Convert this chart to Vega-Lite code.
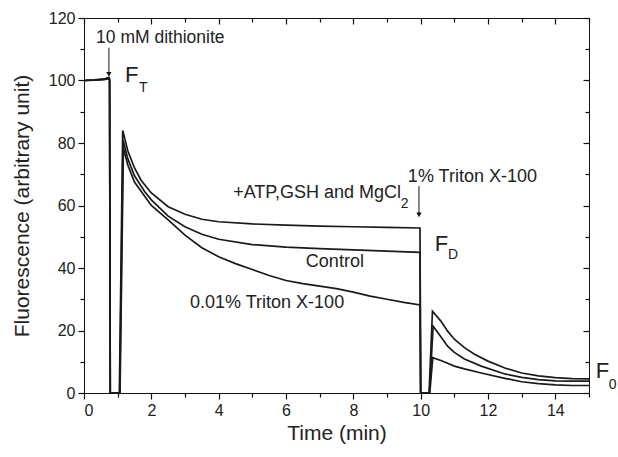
{
  "$schema": "https://vega.github.io/schema/vega-lite/v6.json",
  "width": 505,
  "height": 375,
  "autosize": {"type": "none"},
  "padding": {"left": 84, "top": 18, "right": 29, "bottom": 64},
  "config": {
    "view": {"stroke": "#111", "strokeWidth": 1},
    "font": "Liberation Sans",
    "axis": {"grid": false, "domainColor": "#111", "tickColor": "#111", "labelColor": "#222", "titleColor": "#222", "labelFont": "Liberation Sans", "titleFont": "Liberation Sans", "labelFontSize": 16, "titleFontSize": 21, "titleFontWeight": "normal", "domainWidth": 1, "tickWidth": 1.2, "ticks": true}
  },
  "datasets": {
    "curves": [
      {"series": "ATP", "t": 0, "f": 100}, {"series": "ATP", "t": 0.3, "f": 100.2}, {"series": "ATP", "t": 0.6, "f": 100.5}, {"series": "ATP", "t": 0.74, "f": 101}, {"series": "ATP", "t": 0.76, "f": 100.5}, {"series": "ATP", "t": 0.78, "f": 0}, {"series": "ATP", "t": 1.05, "f": 0}, {"series": "ATP", "t": 1.15, "f": 84}, {"series": "ATP", "t": 1.3, "f": 77.5}, {"series": "ATP", "t": 1.5, "f": 72}, {"series": "ATP", "t": 1.7, "f": 68}, {"series": "ATP", "t": 2, "f": 64}, {"series": "ATP", "t": 2.5, "f": 59.6}, {"series": "ATP", "t": 3, "f": 57.2}, {"series": "ATP", "t": 3.5, "f": 55.6}, {"series": "ATP", "t": 4, "f": 54.8}, {"series": "ATP", "t": 5, "f": 54.1}, {"series": "ATP", "t": 6, "f": 53.7}, {"series": "ATP", "t": 7, "f": 53.4}, {"series": "ATP", "t": 8, "f": 53.2}, {"series": "ATP", "t": 9, "f": 53}, {"series": "ATP", "t": 9.98, "f": 52.8}, {"series": "ATP", "t": 10.0, "f": 0}, {"series": "ATP", "t": 10.25, "f": 0}, {"series": "ATP", "t": 10.35, "f": 26.2}, {"series": "ATP", "t": 10.6, "f": 23}, {"series": "ATP", "t": 10.8, "f": 19.8}, {"series": "ATP", "t": 11, "f": 17.2}, {"series": "ATP", "t": 11.3, "f": 14.5}, {"series": "ATP", "t": 11.6, "f": 12.4}, {"series": "ATP", "t": 12, "f": 10.2}, {"series": "ATP", "t": 12.5, "f": 8}, {"series": "ATP", "t": 13, "f": 6.4}, {"series": "ATP", "t": 13.5, "f": 5.5}, {"series": "ATP", "t": 14, "f": 4.9}, {"series": "ATP", "t": 14.5, "f": 4.6}, {"series": "ATP", "t": 15, "f": 4.5},
      {"series": "Control", "t": 0, "f": 100}, {"series": "Control", "t": 0.3, "f": 100.1}, {"series": "Control", "t": 0.6, "f": 100.4}, {"series": "Control", "t": 0.74, "f": 100.8}, {"series": "Control", "t": 0.76, "f": 100.3}, {"series": "Control", "t": 0.78, "f": 0}, {"series": "Control", "t": 1.06, "f": 0}, {"series": "Control", "t": 1.16, "f": 81}, {"series": "Control", "t": 1.3, "f": 75}, {"series": "Control", "t": 1.5, "f": 69.5}, {"series": "Control", "t": 1.8, "f": 64.5}, {"series": "Control", "t": 2, "f": 61.8}, {"series": "Control", "t": 2.5, "f": 56.6}, {"series": "Control", "t": 3, "f": 53.2}, {"series": "Control", "t": 3.5, "f": 50.8}, {"series": "Control", "t": 4, "f": 49.2}, {"series": "Control", "t": 5, "f": 47.5}, {"series": "Control", "t": 6, "f": 46.7}, {"series": "Control", "t": 7, "f": 46.2}, {"series": "Control", "t": 8, "f": 45.8}, {"series": "Control", "t": 9, "f": 45.4}, {"series": "Control", "t": 9.98, "f": 45}, {"series": "Control", "t": 10.0, "f": 0}, {"series": "Control", "t": 10.26, "f": 0}, {"series": "Control", "t": 10.37, "f": 21.4}, {"series": "Control", "t": 10.6, "f": 18}, {"series": "Control", "t": 10.8, "f": 15}, {"series": "Control", "t": 11, "f": 13}, {"series": "Control", "t": 11.3, "f": 10.9}, {"series": "Control", "t": 11.8, "f": 8.6}, {"series": "Control", "t": 12.5, "f": 6.1}, {"series": "Control", "t": 13, "f": 5}, {"series": "Control", "t": 13.5, "f": 4.3}, {"series": "Control", "t": 14, "f": 3.9}, {"series": "Control", "t": 14.5, "f": 3.8}, {"series": "Control", "t": 15, "f": 3.8},
      {"series": "Triton", "t": 0, "f": 100}, {"series": "Triton", "t": 0.3, "f": 100.1}, {"series": "Triton", "t": 0.6, "f": 100.3}, {"series": "Triton", "t": 0.74, "f": 100.6}, {"series": "Triton", "t": 0.76, "f": 100.2}, {"series": "Triton", "t": 0.78, "f": 0}, {"series": "Triton", "t": 1.07, "f": 0}, {"series": "Triton", "t": 1.17, "f": 78.5}, {"series": "Triton", "t": 1.3, "f": 73}, {"series": "Triton", "t": 1.5, "f": 67.5}, {"series": "Triton", "t": 2, "f": 60}, {"series": "Triton", "t": 2.5, "f": 55.4}, {"series": "Triton", "t": 3, "f": 50.5}, {"series": "Triton", "t": 3.5, "f": 46.5}, {"series": "Triton", "t": 4, "f": 43.6}, {"series": "Triton", "t": 4.5, "f": 41.4}, {"series": "Triton", "t": 5, "f": 39.5}, {"series": "Triton", "t": 5.5, "f": 37.6}, {"series": "Triton", "t": 6, "f": 36}, {"series": "Triton", "t": 6.5, "f": 35}, {"series": "Triton", "t": 7, "f": 34.2}, {"series": "Triton", "t": 7.5, "f": 33.4}, {"series": "Triton", "t": 8, "f": 32.3}, {"series": "Triton", "t": 8.5, "f": 31}, {"series": "Triton", "t": 9, "f": 30}, {"series": "Triton", "t": 9.5, "f": 29}, {"series": "Triton", "t": 9.98, "f": 28.2}, {"series": "Triton", "t": 10.0, "f": 0}, {"series": "Triton", "t": 10.27, "f": 0}, {"series": "Triton", "t": 10.36, "f": 11.3}, {"series": "Triton", "t": 10.6, "f": 10.4}, {"series": "Triton", "t": 10.8, "f": 9.5}, {"series": "Triton", "t": 11, "f": 8.6}, {"series": "Triton", "t": 11.3, "f": 7.7}, {"series": "Triton", "t": 11.8, "f": 6.4}, {"series": "Triton", "t": 12.5, "f": 4.7}, {"series": "Triton", "t": 13, "f": 3.6}, {"series": "Triton", "t": 13.5, "f": 3}, {"series": "Triton", "t": 14, "f": 2.6}, {"series": "Triton", "t": 14.5, "f": 2.4}, {"series": "Triton", "t": 15, "f": 2.4}
    ],
    "toplabel": [
      {"text": "10 mM dithionite", "x": 0.36, "y": 112}
    ],
    "labels": [
      {"text": "+ATP,GSH and MgCl", "x": 4.43, "y": 62.4},
      {"text": "1% Triton X-100", "x": 9.62, "y": 67.5},
      {"text": "Control", "x": 6.59, "y": 40.3},
      {"text": "0.01% Triton X-100", "x": 3.15, "y": 27.2}
    ],
    "bigf": [
      {"text": "F", "x": 1.22, "y": 99.5},
      {"text": "F", "x": 10.42, "y": 45.4},
      {"text": "F", "x": 15.2, "y": 4.8}
    ],
    "subs": [
      {"text": "T", "x": 1.63, "y": 96.3},
      {"text": "2", "x": 9.41, "y": 59.3},
      {"text": "D", "x": 10.81, "y": 42.9},
      {"text": "0", "x": 15.59, "y": 1.3}
    ],
    "arrows": [
      {"x": 0.74, "y": 110.5, "y2": 102},
      {"x": 9.95, "y": 66.2, "y2": 57}
    ]
  },
  "layer": [
    {
      "data": {"name": "curves"},
      "mark": {"type": "line", "color": "#1a1a1a", "strokeWidth": 1.7, "clip": true},
      "encoding": {
        "x": {"field": "t", "type": "quantitative", "scale": {"domain": [0, 15], "nice": false}, "axis": {"orient": "bottom", "values": [0, 2, 4, 6, 8, 10, 12, 14], "tickSize": 6, "labelPadding": 3, "title": "Time (min)", "titlePadding": 4}},
        "y": {"field": "f", "type": "quantitative", "scale": {"domain": [0, 120], "nice": false}, "axis": {"orient": "left", "values": [0, 20, 40, 60, 80, 100, 120], "tickSize": 6, "labelPadding": 3, "title": "Fluorescence (arbitrary unit)", "titlePadding": 16}},
        "detail": {"field": "series"}
      }
    },
    {
      "data": {"name": "labels"},
      "mark": {"type": "text", "align": "left", "baseline": "alphabetic", "fontSize": 18, "color": "#222"},
      "encoding": {
        "x": {"field": "x", "type": "quantitative", "scale": {"domain": [0, 15], "nice": false}, "axis": {"orient": "top", "values": [0, 2, 4, 6, 8, 10, 12, 14], "tickSize": -6, "labels": false, "title": null}},
        "y": {"field": "y", "type": "quantitative", "scale": {"domain": [0, 120], "nice": false}, "axis": {"orient": "right", "values": [0, 20, 40, 60, 80, 100, 120], "tickSize": -6, "labels": false, "title": null}},
        "text": {"field": "text"}
      }
    },
    {
      "data": {"name": "toplabel"},
      "mark": {"type": "text", "align": "left", "baseline": "alphabetic", "fontSize": 17.5, "color": "#222"},
      "encoding": {
        "x": {"field": "x", "type": "quantitative", "scale": {"domain": [0, 15], "nice": false}, "axis": {"orient": "bottom", "values": [1, 3, 5, 7, 9, 11, 13, 15], "tickSize": 4, "labels": false, "domain": false, "title": null}},
        "y": {"field": "y", "type": "quantitative", "scale": {"domain": [0, 120], "nice": false}, "axis": {"orient": "left", "values": [10, 30, 50, 70, 90, 110], "tickSize": 4, "labels": false, "domain": false, "title": null}},
        "text": {"field": "text"}
      }
    },
    {
      "data": {"name": "arrows"},
      "mark": {"type": "rule", "color": "#111", "strokeWidth": 1},
      "encoding": {
        "x": {"field": "x", "type": "quantitative", "scale": {"domain": [0, 15], "nice": false}, "axis": {"orient": "top", "values": [1, 3, 5, 7, 9, 11, 13, 15], "tickSize": -4, "labels": false, "domain": false, "title": null}},
        "y": {"field": "y", "type": "quantitative", "scale": {"domain": [0, 120], "nice": false}, "axis": {"orient": "right", "values": [10, 30, 50, 70, 90, 110], "tickSize": -4, "labels": false, "domain": false, "title": null}},
        "y2": {"field": "y2"}
      }
    },
    {
      "data": {"name": "arrows"},
      "mark": {"type": "point", "shape": "triangle-down", "filled": true, "color": "#111", "size": 28, "opacity": 1},
      "encoding": {
        "x": {"field": "x", "type": "quantitative", "scale": {"domain": [0, 15], "nice": false}, "axis": null},
        "y": {"field": "y2", "type": "quantitative", "scale": {"domain": [0, 120], "nice": false}, "axis": null}
      }
    },
    {
      "data": {"name": "bigf"},
      "mark": {"type": "text", "align": "left", "baseline": "alphabetic", "fontSize": 22, "color": "#222"},
      "encoding": {
        "x": {"field": "x", "type": "quantitative", "scale": {"domain": [0, 15], "nice": false}, "axis": null},
        "y": {"field": "y", "type": "quantitative", "scale": {"domain": [0, 120], "nice": false}, "axis": null},
        "text": {"field": "text"}
      }
    },
    {
      "data": {"name": "subs"},
      "mark": {"type": "text", "align": "left", "baseline": "alphabetic", "fontSize": 14, "color": "#222"},
      "encoding": {
        "x": {"field": "x", "type": "quantitative", "scale": {"domain": [0, 15], "nice": false}, "axis": null},
        "y": {"field": "y", "type": "quantitative", "scale": {"domain": [0, 120], "nice": false}, "axis": null},
        "text": {"field": "text"}
      }
    }
  ],
  "resolve": {"axis": {"x": "independent", "y": "independent"}}
}
